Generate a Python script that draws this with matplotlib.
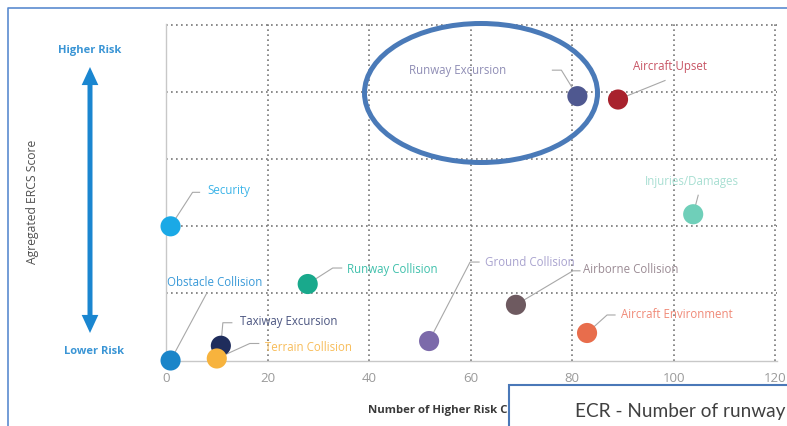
import numpy as np
import matplotlib
matplotlib.use("Agg")
import matplotlib.pyplot as plt
from matplotlib.patches import Ellipse, Rectangle, FancyArrowPatch
from matplotlib.lines import Line2D

# data
categories = ['Security', 'Obstacle Collision', 'Taxiway Excursion', 'Terrain Collision',
              'Runway Collision', 'Ground Collision', 'Airborne Collision', 'Aircraft Environment',
              'Injuries/Damages', 'Runway Excursion', 'Aircraft Upset']
higher_risk_occ = [0.9, 0.9, 10.8, 10.0, 27.9, 51.8, 68.9, 82.9, 103.8, 81.0, 89.0]
ercs_score = [2.0, 0.0, 0.22, 0.03, 1.14, 0.29, 0.83, 0.41, 2.18, 3.94, 3.89]
x_ticks = [0, 20, 40, 60, 80, 100, 120]

dot_colors = ['#1aa9e6', '#1a85c9', '#1f2d5c', '#f7b33d', '#19a98c', '#7c6aaa',
              '#6e5a60', '#e86d4c', '#6fcfb9', '#4f5890', '#a8222d']
label_colors = ['#3cb4e8', '#3a9ad8', '#4b5580', '#f8bd5a', '#3fc0ab', '#a9a3cf',
                '#9b8b94', '#f08a78', '#a8dfd2', '#8f8db5', '#c85565']
# leader layout in pixels relative to dot: elbow dx, dy, segment end dx, text dx, dy, align
label_layout = [(22, 34, 29, 37, 36, 'left'), (36, 67, 36, -4, 78, 'left'),
                (2, 23, 11, 19, 24, 'left'), (33, 15, 42, 48, 11, 'left'),
                (25, 16, 34, 39, 15, 'left'), (41, 79, 50, 56, 79, 'left'),
                (57, 34, 64, 67, 35, 'left'), (20, 18, 28, 34, 18, 'left'),
                (5, 19, 5, -1, 33, 'center'), (-16, 26, -25, -71, 26, 'right'),
                (47, 19, 47, 15, 33, 'left')]

W, H = 787, 426
fig = plt.figure(figsize=(W / 100, H / 100), dpi=100)
ax = fig.add_axes([166 / W, 65.5 / H, 611 / W, 336.8 / H])
ax.set_xlim(0, 120.3)
ax.set_ylim(0, 5.02)

ax.set_xticks(x_ticks)
ax.set_yticks([1, 2, 3, 4, 5])
ax.tick_params(axis='y', length=0, labelleft=False)
ax.tick_params(axis='x', length=0, pad=8, labelsize=9.5, labelcolor='#9a9a9a')
for lab in ax.get_xticklabels():
    lab.set_family('Open Sans')
ax.grid(True, linestyle=(0, (1, 2)), color='#777777', linewidth=1.2)
ax.xaxis.get_gridlines()[0].set_visible(False)
for s in ['top', 'right']:
    ax.spines[s].set_visible(False)
for s in ['left', 'bottom']:
    ax.spines[s].set_color('#c8c8c8')
    ax.spines[s].set_linewidth(1.0)

ax.scatter(higher_risk_occ, ercs_score, s=210, c=dot_colors, zorder=4, clip_on=False, linewidths=0)

inv = ax.transData.inverted()
for name, x, y, col, (ex, ey, sx, tx, ty, ha) in zip(categories, higher_risk_occ, ercs_score,
                                                     label_colors, label_layout):
    px, py = ax.transData.transform((x, y))
    pts = inv.transform([(px, py), (px + ex, py + ey), (px + sx, py + ey)])
    ax.plot(pts[:, 0], pts[:, 1], color='#a8a8a8', lw=0.8, zorder=3, clip_on=False)
    ax.annotate(name, (x, y), xytext=(tx, ty), textcoords='offset pixels', ha=ha, va='center',
                color=col, fontsize=8.3, family='Open Sans', zorder=5)

# left risk scale
fig.text(90 / W, 1 - 50.5 / H, 'Higher Risk', ha='center', va='center', color='#3a95d5',
         fontsize=8, fontweight='bold', family='Open Sans')
fig.text(94 / W, 1 - 352 / H, 'Lower Risk', ha='center', va='center', color='#3a95d5',
         fontsize=8, fontweight='bold', family='Open Sans')
style = 'simple,head_width=12,head_length=13,tail_width=3.6'
for yend in [67, 333]:
    fig.patches.append(FancyArrowPatch((90 / W, 1 - 200 / H), (90 / W, 1 - yend / H),
                                       transform=fig.transFigure, arrowstyle=style,
                                       mutation_scale=1, color='#1a86d0', lw=0,
                                       shrinkA=0, shrinkB=0))
fig.text(32.5 / W, 1 - 201.5 / H, 'Agregated ERCS Score', rotation=90, ha='center', va='center',
         color='#505050', fontsize=8.7, family='Open Sans')
fig.text(368 / W, 1 - 411 / H, 'Number of Higher Risk Classified Occurrences', ha='left',
         va='center', color='#3a3a3a', fontsize=8.2, fontweight='bold', family='Open Sans')

# overlays from the slide
fig.patches.append(Ellipse((481 / W, 1 - 93 / H), 233 / W, 139 / H, transform=fig.transFigure,
                           fill=False, ec='#4a7ab8', lw=3.6, zorder=10))
fig.lines.append(Line2D([8 / W, 8 / W, 1], [0, 1 - 8 / H, 1 - 8 / H], transform=fig.transFigure,
                        color='#5b8bd0', lw=1.2))
fig.patches.append(Rectangle((509 / W, -0.05), 0.4, 1 - 385 / H + 0.05, transform=fig.transFigure,
                             fc='white', ec='#4a78b8', lw=1.5, zorder=20))
fig.text(575 / W, 1 - 411 / H, 'ECR - Number of runway', ha='left', va='center', color='#404040',
         fontsize=13.7, family='Lato', zorder=21)

fig.savefig('out.png', dpi=100)
